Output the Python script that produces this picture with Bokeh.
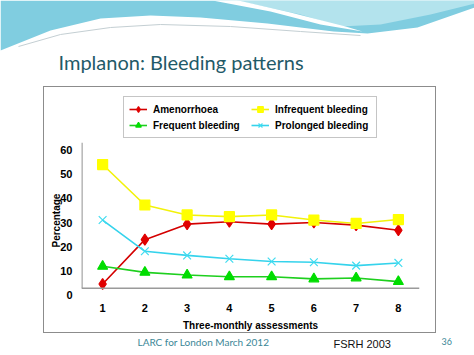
from bokeh.plotting import figure
from bokeh.layouts import column, row
from bokeh.models import (Range1d, LinearAxis, FixedTicker, Span, Arrow, Legend,
                          LegendItem, Spacer, Title)
from bokeh.core.properties import value
from bokeh.embed import file_html
from bokeh.resources import INLINE

# ---- data ----
assessments = [1, 2, 3, 4, 5, 6, 7, 8]
amenorrhoea = [1.7, 20.0, 26.4, 27.4, 26.4, 27.1, 26.0, 23.9]
infrequent = [51.0, 34.3, 30.2, 29.5, 30.2, 28.1, 26.7, 28.3]
frequent = [9.0, 6.5, 5.4, 4.7, 4.7, 3.8, 4.2, 2.7]
prolonged = [28.1, 15.2, 13.5, 12.1, 11.0, 10.7, 9.3, 10.4]
y_ticks = [0, 10, 20, 30, 40, 50, 60]
x_ticks = assessments

title_text = ["Implanon: Bleeding patterns"]
footer_texts = ["LARC for London March 2012", "FSRH 2003", "36"]

FONT = "Liberation Sans"
AX = "#9a9a9a"
W = 474

# ---------------- header (slide banner + title) ----------------
HEAD_H = 86
head = figure(width=W, height=HEAD_H, x_range=Range1d(0, W), y_range=Range1d(HEAD_H, 0),
              output_backend="svg", toolbar_location=None, min_border=0,
              x_axis_location=None, y_axis_location=None)
head.outline_line_color = None
head.grid.visible = False
head.background_fill_color = "white"
head.border_fill_color = "white"

wave_main_x = [0, 474, 474, 417, 367, 333, 267, 200, 150, 100, 50, 0]
wave_main_y = [0, 0, 7, 27, 33, 31, 23, 17, 15, 18, 30, 50]
wave_light_x = [236, 474, 474, 430, 380, 340, 300]
wave_light_y = [0, 0, 3, 14, 24, 26, 14]
wave_white_x = [212, 238, 290, 345, 362, 320, 270]
wave_white_y = [0, 0, 12, 26, 31, 24, 11]
swoosh_x = [18, 60, 110, 160, 230, 300, 360]
swoosh_y = [46, 34, 27, 24, 26, 31, 35]

head.patch(wave_main_x, wave_main_y, fill_color="#80cde0", line_color=None)
head.patch(wave_light_x, wave_light_y, fill_color="#b3e3ed", line_color=None)
head.patch(wave_white_x, wave_white_y, fill_color="white", line_color=None)
head.line(swoosh_x, swoosh_y, line_color="#c4cfd3", line_width=1)
head.text(x=[58], y=[61], text=title_text, text_font=value("Lato"),
          text_font_size="20px", text_color="#1f5a68",
          text_baseline="middle", text_align="left")

# ---------------- chart ----------------
CH_W, CH_H = 393, 247   # outer size including the 1px box border
X_RANGE = (0.5, 8.5)
Y_MAX = 60
Y_LOW = -3.04
Y_TOP = 82.375
LABEL_SHIFT = 3.0

p = figure(width=CH_W, height=CH_H, x_range=X_RANGE, y_range=(Y_LOW, Y_TOP),
           output_backend="svg", toolbar_location=None, y_axis_location=None,
           min_border_left=37, min_border_right=18, min_border_top=1,
           min_border_bottom=39,
           styles={"border": "1px solid #8c8c8c"})
p.background_fill_color = "white"
p.border_fill_color = "white"
p.outline_line_color = None
p.grid.visible = False

p.xaxis.ticker = FixedTicker(ticks=x_ticks)
p.xaxis.axis_line_color = None
p.xaxis.major_tick_line_color = None
p.xaxis.minor_tick_line_color = None
p.xaxis.major_tick_out = 0
p.xaxis.major_label_standoff = 8
p.xaxis.major_label_text_font = FONT
p.xaxis.major_label_text_font_style = "bold"
p.xaxis.major_label_text_font_size = "11px"
p.xaxis.major_label_text_color = "black"
p.xaxis.axis_label = "Three-monthly assessments"
p.xaxis.axis_label_text_font = FONT
p.xaxis.axis_label_text_font_style = "bold"
p.xaxis.axis_label_text_font_size = "10px"
p.xaxis.axis_label_text_color = "black"
p.xaxis.axis_label_standoff = 5

p.extra_y_ranges = {"lab": Range1d(Y_LOW + LABEL_SHIFT, Y_TOP + LABEL_SHIFT)}
yax = LinearAxis(y_range_name="lab", ticker=FixedTicker(ticks=y_ticks))
yax.axis_line_color = None
yax.major_tick_line_color = None
yax.minor_tick_line_color = None
yax.major_tick_out = 0
yax.major_label_standoff = 9
yax.major_label_text_font = FONT
yax.major_label_text_font_style = "bold"
yax.major_label_text_font_size = "11px"
yax.major_label_text_color = "black"
p.add_layout(yax, "left")

# y axis title, placed along the 0..60 part of the axis
p.add_layout(Title(text="Percentage", align="left", offset=48, standoff=-8,
                   text_font=FONT, text_font_style="bold", text_font_size="10px",
                   text_color="black"), "left")

# axis lines (x axis at 0, y axis from 0 to 60)
p.add_layout(Span(location=0, dimension="width", line_color=AX, line_width=1.5))
p.add_layout(Arrow(start=None, end=None, x_start=X_RANGE[0] + 0.01, y_start=0,
                   x_end=X_RANGE[0] + 0.01, y_end=Y_MAX, line_color=AX, line_width=1.5))

series = [
    ("Amenorrhoea", amenorrhoea, "#d40000", "#e00000", "diamond", 11),
    ("Infrequent bleeding", infrequent, "#f2f20a", "#ffff00", "square", 10),
    ("Frequent bleeding", frequent, "#1ecf1e", "#00dd00", "triangle", 10),
    ("Prolonged bleeding", prolonged, "#35d3ec", "#40dcf0", "x", 11),
]
items = {}
for name, vals, lc, mc, mk, sz in series:
    r1 = p.line(assessments, vals, line_color=lc, line_width=1.6)
    r2 = p.scatter(assessments, vals, marker=mk, size=sz, fill_color=mc,
                   line_color=mc, line_width=1.2)
    items[name] = LegendItem(label=name, renderers=[r1, r2])

legend_order = ["Amenorrhoea", "Frequent bleeding", "Infrequent bleeding", "Prolonged bleeding"]
legend = Legend(items=[items[n] for n in legend_order], ncols=2, location=(42, 157),
                label_text_font=FONT, label_text_font_style="bold",
                label_text_font_size="10px", label_text_color="black",
                label_width=96, label_height=14, glyph_height=14, glyph_width=18,
                label_standoff=6, spacing=2, padding=5, margin=0,
                border_line_color="#8c8c8c", border_line_width=1,
                background_fill_color="white", background_fill_alpha=1)
p.add_layout(legend, "center")

middle = row(Spacer(width=43, height=CH_H), p, Spacer(width=W - 43 - CH_W, height=CH_H))

# ---------------- footer ----------------
FOOT_H = 355 - HEAD_H - CH_H
foot = figure(width=W, height=FOOT_H, x_range=Range1d(0, W), y_range=Range1d(FOOT_H, 0),
              output_backend="svg", toolbar_location=None, min_border=0,
              x_axis_location=None, y_axis_location=None)
foot.outline_line_color = None
foot.grid.visible = False
foot.background_fill_color = "white"
foot.border_fill_color = "white"
foot.text(x=[137], y=[8], text=[footer_texts[0]], text_font=value("Lato"),
          text_font_size="10px", text_color="#3b8797", text_baseline="middle")
foot.text(x=[333], y=[10], text=[footer_texts[1]], text_font=value(FONT),
          text_font_size="11px", text_color="#111111", text_baseline="middle")
foot.text(x=[441], y=[8], text=[footer_texts[2]], text_font=value("Lato"),
          text_font_size="9px", text_color="#3b8797", text_baseline="middle")

page = column(head, middle, foot)
open("out.html", "w").write(file_html(page, INLINE))
